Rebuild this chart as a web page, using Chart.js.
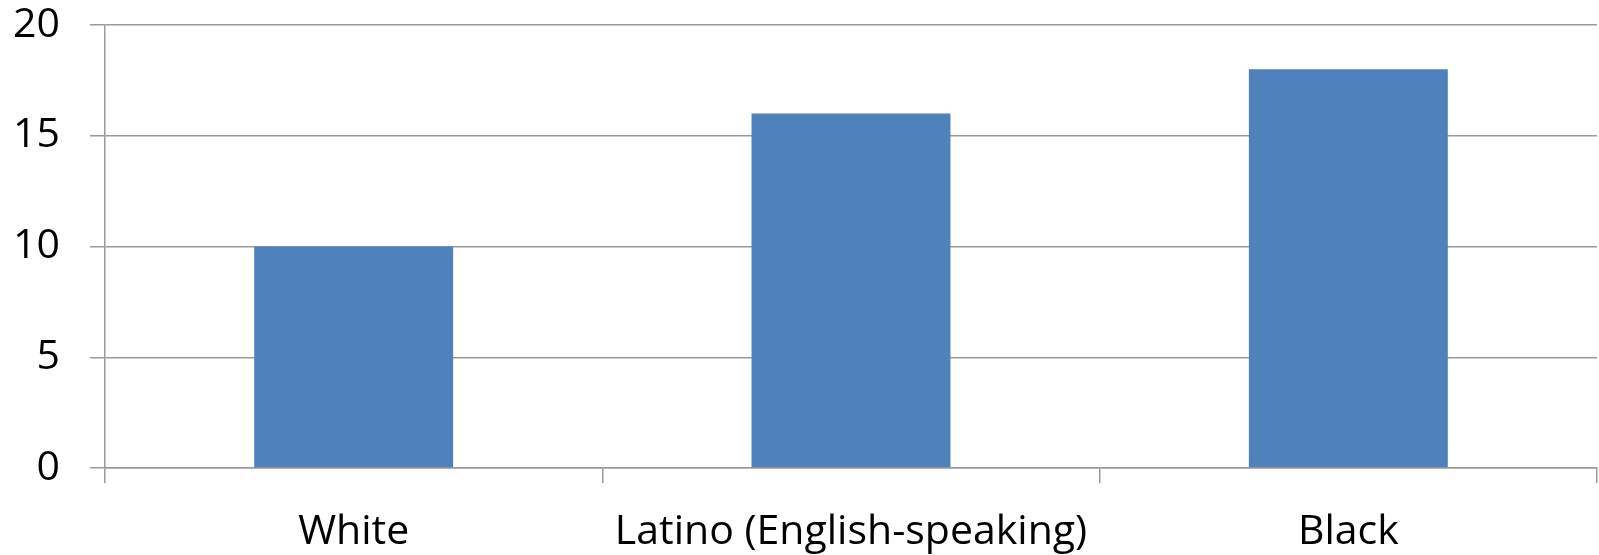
<!DOCTYPE html>
<html>
<head>
<meta charset="utf-8">
<script src="https://cdn.jsdelivr.net/npm/chart.js@4/dist/chart.umd.min.js"></script>
<style>
  html, body { margin: 0; padding: 0; background: #ffffff; }
  #wrap { width: 1599px; height: 555px; }
</style>
</head>
<body>
<div id="wrap"><canvas id="c" width="1599" height="555"></canvas></div>
<script>
const categories = ["White", "Latino (English-speaking)", "Black"];
const values = [10, 16, 18];
const yTicks = [0, 5, 10, 15, 20];

const FONT = { family: "'Open Sans', sans-serif", size: 41 };
const GRID = "#9a9a9a";

new Chart(document.getElementById("c"), {
  type: "bar",
  data: {
    labels: categories,
    datasets: [{
      data: values,
      backgroundColor: "#4F81BD",
      borderWidth: 0,
      barPercentage: 0.4,
      categoryPercentage: 1.0
    }]
  },
  options: {
    responsive: false,
    animation: false,
    devicePixelRatio: 1,
    layout: { padding: { top: 25, right: 2, left: 0, bottom: 0 } },
    plugins: { legend: { display: false }, tooltip: { enabled: false } },
    scales: {
      x: {
        grid: { drawOnChartArea: false, drawTicks: true, tickLength: 15, color: GRID, lineWidth: 1.5, offset: true },
        border: { color: GRID, width: 1.5 },
        ticks: { color: "#000", font: FONT, padding: 25, maxRotation: 0, autoSkip: false },
        afterFit(scale) { scale.height = 87; scale.paddingLeft = 0; scale.paddingRight = 0; }
      },
      y: {
        min: 0, max: 20,
        afterBuildTicks(scale) { scale.ticks = yTicks.map(v => ({ value: v })); },
        grid: { color: GRID, lineWidth: 1.5, tickLength: 15 },
        border: { color: GRID, width: 1.5 },
        ticks: { color: "#000", font: FONT, padding: 30 },
        afterFit(scale) { scale.width = 105; scale.paddingTop = 0; scale.paddingBottom = 0; }
      }
    }
  }
});
</script>
</body>
</html>
